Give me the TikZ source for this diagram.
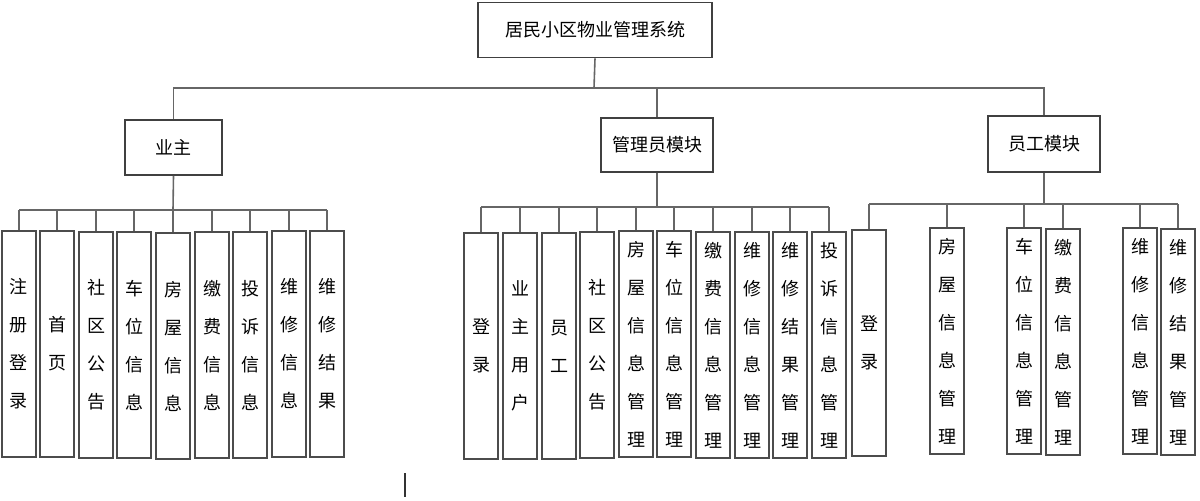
\documentclass[tikz,border=0pt]{standalone}
\usepackage{fontspec}
\newfontfamily\cjk{Noto Sans CJK SC}
\begin{document}
\begin{tikzpicture}[x=0.5pt,y=-0.5pt,
  box/.style={draw=black!75,line width=0.9pt,fill=white,inner sep=0pt,font={\cjk\fontsize{9}{10}\selectfont}},
  leaf/.style={draw=black!70,line width=0.9pt,fill=white,inner sep=0pt,minimum width=17pt,minimum height=113pt,align=center,font={\cjk\fontsize{9}{19}\selectfont}},
  conn/.style={draw=black!60,line width=0.8pt}]
\useasboundingbox (0,0) rectangle (1200,500);
\node[box,minimum width=117pt,minimum height=27.5pt] (root) at (595,30) {居民小区物业管理系统};
\node[box,minimum width=48.5pt,minimum height=27.5pt] (yz) at (173.5,147.5) {业主};
\node[box,minimum width=56pt,minimum height=27pt] (gl) at (657,145) {管理员模块};
\node[box,minimum width=56pt,minimum height=28pt] (yg) at (1044,144) {员工模块};
\coordinate (b0) at (594,88);
\draw[conn] (root.south) -- (b0);
\draw[conn] (yz.north) -- (yz.north |- b0) -- (yg.north |- b0) -- (yg.north);
\draw[conn] (gl.north) -- (gl.north |- b0);
% owner leaves
\node[leaf] (a1) at (19,344) {注\\册\\登\\录};
\node[leaf] (a2) at (57,344) {首\\页};
\node[leaf] (a3) at (96,345) {社\\区\\公\\告};
\node[leaf] (a4) at (134,345) {车\\位\\信\\息};
\node[leaf] (a5) at (173,346) {房\\屋\\信\\息};
\node[leaf] (a6) at (212,345) {缴\\费\\信\\息};
\node[leaf] (a7) at (250,345) {投\\诉\\信\\息};
\node[leaf] (a8) at (289,344) {维\\修\\信\\息};
\node[leaf] (a9) at (327,344) {维\\修\\结\\果};
\coordinate (ba) at (173,210);
\draw[conn] (yz.south) -- (ba);
\draw[conn] (a1.north |- ba) -- (a9.north |- ba);
\foreach \n in {a1,a2,a3,a4,a5,a6,a7,a8,a9} \draw[conn] (\n.north) -- (\n.north |- ba);
% admin leaves
\node[leaf] (m1) at (481,346) {登\\录};
\node[leaf] (m2) at (520,346) {业\\主\\用\\户};
\node[leaf] (m3) at (559,346) {员\\工};
\node[leaf] (m4) at (597,345) {社\\区\\公\\告};
\node[leaf] (m5) at (636,344) {房\\屋\\信\\息\\管\\理};
\node[leaf] (m6) at (674,344) {车\\位\\信\\息\\管\\理};
\node[leaf] (m7) at (713,345) {缴\\费\\信\\息\\管\\理};
\node[leaf] (m8) at (752,345) {维\\修\\信\\息\\管\\理};
\node[leaf] (m9) at (790,345) {维\\修\\结\\果\\管\\理};
\node[leaf] (m10) at (829,345) {投\\诉\\信\\息\\管\\理};
\coordinate (bm) at (657,207);
\draw[conn] (gl.south) -- (bm);
\draw[conn] (m1.north |- bm) -- (m10.north |- bm);
\foreach \n in {m1,m2,m3,m4,m5,m6,m7,m8,m9,m10} \draw[conn] (\n.north) -- (\n.north |- bm);
% staff leaves
\node[leaf] (s1) at (869,343) {登\\录};
\node[leaf] (s2) at (947,341) {房\\屋\\信\\息\\管\\理};
\node[leaf] (s3) at (1024,341) {车\\位\\信\\息\\管\\理};
\node[leaf] (s4) at (1063,342) {缴\\费\\信\\息\\管\\理};
\node[leaf] (s5) at (1140,341) {维\\修\\信\\息\\管\\理};
\node[leaf] (s6) at (1178,342) {维\\修\\结\\果\\管\\理};
\coordinate (bs) at (1044,204);
\draw[conn] (yg.south) -- (bs);
\draw[conn] (s1.north |- bs) -- (s6.north |- bs);
\foreach \n in {s1,s2,s3,s4,s5,s6} \draw[conn] (\n.north) -- (\n.north |- bs);
\draw[conn,draw=black!80] (405,473) -- (405,497);
\end{tikzpicture}
\end{document}
